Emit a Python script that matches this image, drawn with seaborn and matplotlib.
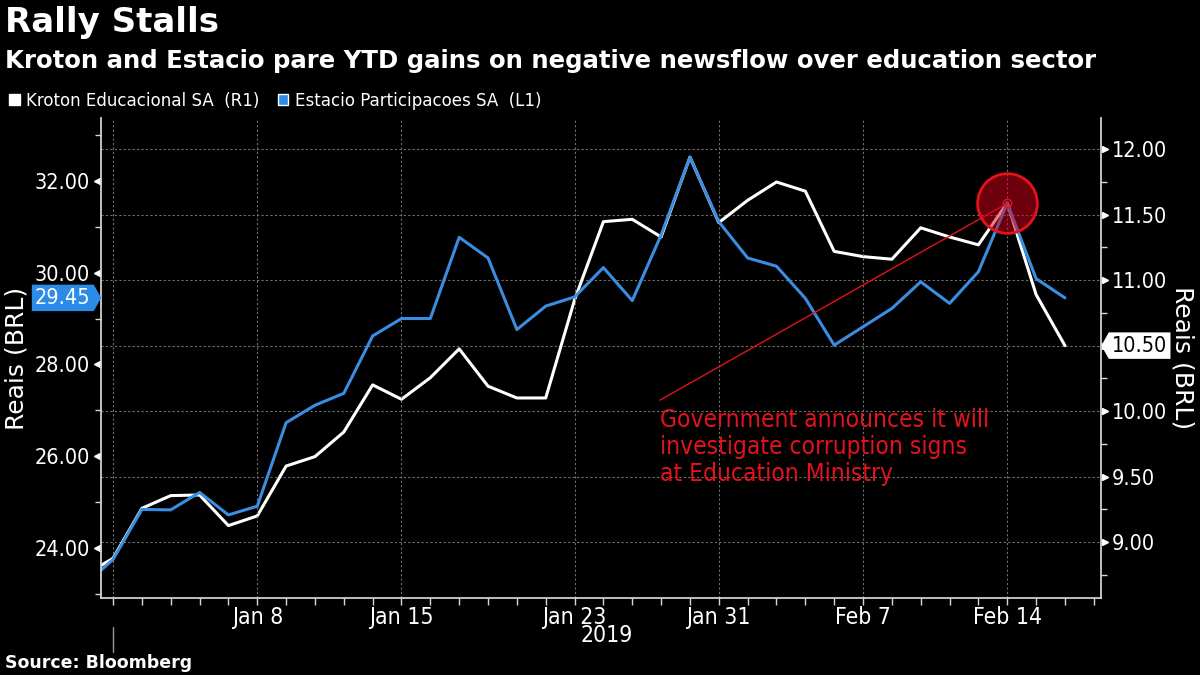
import numpy as np
import pandas as pd
import matplotlib
matplotlib.use("Agg")
import matplotlib.pyplot as plt
import matplotlib.transforms as mtransforms
from matplotlib.patches import Patch
from matplotlib.path import Path
from matplotlib.ticker import FixedLocator, FormatStrFormatter
import seaborn as sns

# trading days on the chart (Dec 27 is cut by the left edge)
dates = ["2018-12-27", "2018-12-28",
         "2019-01-02", "2019-01-03", "2019-01-04", "2019-01-07", "2019-01-08",
         "2019-01-09", "2019-01-10", "2019-01-11", "2019-01-14", "2019-01-15",
         "2019-01-16", "2019-01-17", "2019-01-18", "2019-01-21", "2019-01-22",
         "2019-01-23", "2019-01-24", "2019-01-28", "2019-01-29", "2019-01-30",
         "2019-01-31", "2019-02-01", "2019-02-04", "2019-02-05", "2019-02-06",
         "2019-02-07", "2019-02-08", "2019-02-11", "2019-02-12", "2019-02-13",
         "2019-02-14", "2019-02-15", "2019-02-18"]

# Kroton Educacional SA, right axis (R1)
kroton = [8.745, 8.875, 9.257, 9.354, 9.359, 9.125, 9.199, 9.58, 9.652, 9.84,
          10.20, 10.09, 10.255, 10.475, 10.19, 10.10, 10.10, 10.85, 11.447, 11.465,
          11.33, 11.94, 11.44, 11.61, 11.75, 11.68, 11.22, 11.18, 11.16, 11.40,
          11.33, 11.27, 11.59, 10.89, 10.50]

# Estacio Participacoes SA, left axis (L1)
estacio = [23.19, 23.75, 24.84, 24.83, 25.21, 24.72, 24.91, 26.73, 27.11, 27.37,
           28.62, 29.00, 29.00, 30.77, 30.32, 28.76, 29.27, 29.47, 30.11, 29.39,
           30.82, 32.51, 31.11, 30.32, 30.14, 29.44, 28.42, 28.82, 29.22, 29.80,
           29.33, 30.02, 31.51, 29.87, 29.45]

tick_dates = ["2019-01-08", "2019-01-15", "2019-01-23", "2019-01-31", "2019-02-07", "2019-02-14"]
tick_labels = ["Jan 8", "Jan 15", "Jan 23", "Jan 31", "Feb 7", "Feb 14"]
year_break = "2018-12-28"
left_ticks = [24, 26, 28, 30, 32]
left_minor = [23, 25, 27, 29, 31, 33]
right_ticks = [9.0, 9.5, 10.0, 10.5, 11.0, 11.5, 12.0]
right_minor = [8.75, 9.25, 9.75, 10.25, 10.75, 11.25, 11.75]
event_date = "2019-02-14"
note = "Government announces it will\ninvestigate corruption signs\nat Education Ministry"

BLUE = "#3a8de0"
TAG_BLUE = "#2b8be6"
RED = "#e3121b"
GRID = "#707070"
AXC = "#d8d8d8"

sns.set_theme(style="dark", rc={
    "figure.facecolor": "black", "axes.facecolor": "black", "savefig.facecolor": "black",
    "text.color": "white", "axes.labelcolor": "white",
    "xtick.color": "white", "ytick.color": "white",
})
plt.rcParams["font.family"] = ["DejaVu Sans"]
plt.rcParams["font.stretch"] = "condensed"

df = pd.DataFrame({"date": pd.to_datetime(dates), "kroton": kroton, "estacio": estacio})
df["day"] = np.arange(len(df))
pos = dict(zip(dates, df["day"]))

fig = plt.figure(figsize=(12, 6.75), dpi=100)
ax = fig.add_axes([0.0842, 0.1141, 0.8333, 0.7111])
ax2 = ax.twinx()
ax.set_zorder(ax2.get_zorder() + 1)
ax.patch.set_visible(False)

sns.lineplot(data=df, x="day", y="kroton", ax=ax2, color="white", lw=2.2)
sns.lineplot(data=df, x="day", y="estacio", ax=ax, color=BLUE, lw=2.2)

ax.set_xlim(0.584, 35.25)
ax.set_ylim(22.91, 33.37)
ax2.set_ylim(8.572, 12.239)

# grid
ax2.set_yticks(right_ticks)
ax2.set_yticks(right_minor, minor=True)
ax2.yaxis.grid(True, color=GRID, ls=(0, (2, 2)), lw=0.8)
ax2.xaxis.grid(False)
xt = [pos[year_break]] + [pos[d] for d in tick_dates]
ax.set_xticks(xt)
ax.set_xticklabels([""] + tick_labels)
ax.xaxis.set_minor_locator(FixedLocator(np.arange(1, len(dates) + 1)))
ax.xaxis.grid(True, color=GRID, ls=(0, (2, 2)), lw=0.8)
ax.yaxis.grid(False)
ax.set_axisbelow(True)

for s in ax.spines.values():
    s.set_color(AXC)
for s in ax2.spines.values():
    s.set_color(AXC)
ax.spines["top"].set_visible(False)
ax.spines["right"].set_visible(False)
ax2.spines["top"].set_visible(False)
ax2.spines["left"].set_visible(False)
ax2.spines["bottom"].set_visible(False)

ax.tick_params(axis="x", which="both", direction="out", length=5, width=1,
               color=AXC, labelsize=16.5, pad=0.5, bottom=True)

ax.set_yticks(left_ticks)
ax.set_yticks(left_minor, minor=True)
ax.yaxis.set_major_formatter(FormatStrFormatter("%.2f"))
ax.tick_params(axis="y", which="major", length=0, pad=8, labelsize=15.5, left=True)
ax.tick_params(axis="y", which="minor", length=4, width=1, direction="out", color=AXC, left=True)
ax2.yaxis.set_major_formatter(FormatStrFormatter("%.2f"))
ax2.tick_params(axis="y", which="major", length=0, pad=8, labelsize=15.5, right=True)
ax2.tick_params(axis="y", which="minor", length=4, width=1, direction="out", color=AXC, right=True)

# triangle tick marks
ltr = mtransforms.blended_transform_factory(ax.transAxes, ax.transData)
rtr = mtransforms.blended_transform_factory(ax2.transAxes, ax2.transData)
ax.plot(np.full(len(left_ticks), -0.004), left_ticks, marker="<", ls="none", ms=5,
        color="white", transform=ltr, clip_on=False)
ax2.plot(np.full(len(right_ticks), 1.004), right_ticks, marker=">", ls="none", ms=5,
         color="white", transform=rtr, clip_on=False)

ax.set_xlabel("")
ax.set_ylabel("Reais (BRL)", fontsize=18, fontstretch="normal")
ax.yaxis.set_label_coords(-0.073, 0.5)
ax2.set_ylabel("Reais (BRL)", fontsize=18, fontstretch="normal", rotation=270, va="bottom")
ax2.yaxis.set_label_coords(1.070, 0.5)

# year label and break mark
btr = mtransforms.blended_transform_factory(ax.transData, ax.transAxes)
ax.plot([pos[year_break]] * 2, [-0.06, -0.1125], color="#9a9a9a", lw=1,
        transform=btr, clip_on=False)
ax.text(0.506, -0.079, "2019", transform=ax.transAxes, ha="center", va="center",
        fontsize=16.5, color="white")


def tag_shape(direction):
    def shape(x0, y0, width, height, mutation_size):
        pad = 0.15 * mutation_size
        x0, y0 = x0 - pad, y0 - pad
        x1, y1 = x0 + width + 2 * pad, y0 + height + 2 * pad
        ym = (y0 + y1) / 2
        tip = 0.28 * (y1 - y0)
        if direction == "right":
            verts = [(x0, y0), (x1, y0), (x1 + tip, ym), (x1, y1), (x0, y1), (x0, y0)]
        else:
            verts = [(x0, y0), (x1, y0), (x1, y1), (x0, y1), (x0 - tip, ym), (x0, y0)]
        return Path(verts, closed=True)
    return shape


ax.text(-0.0105, estacio[-1], f"{estacio[-1]:.2f}", transform=ltr, ha="right", va="center",
        fontsize=15.5, color="white",
        bbox=dict(boxstyle=tag_shape("right"), fc=TAG_BLUE, ec="none"))
ax2.text(1.011, kroton[-1], f"{kroton[-1]:.2f}", transform=rtr, ha="left", va="center",
         fontsize=15.5, color="black",
         bbox=dict(boxstyle=tag_shape("left"), fc="white", ec="none"))

# event marker and annotation
ev = pos[event_date]
ev_y = estacio[dates.index(event_date)]
note_x, note_y = 19.96, 27.22
ax.plot(ev, ev_y, marker="o", ms=43, mfc=(0.85, 0.0, 0.1, 0.5), mec=RED, mew=2, zorder=5)
ax.plot(ev, ev_y, marker="o", ms=6, mfc="none", mec=RED, mew=1, zorder=6)
ax.plot([note_x, ev], [note_y, ev_y], color=RED, lw=1, zorder=4)
ax.text(note_x, note_y - 0.17, note, ha="left", va="top", fontsize=17.6, color=RED,
        linespacing=1.16)

# legend
fig.legend(handles=[Patch(fc="white"), Patch(fc=TAG_BLUE)],
           labels=["Kroton Educacional SA  (R1)", "Estacio Participacoes SA  (L1)"],
           loc="center left", bbox_to_anchor=(-0.006, 0.850), ncol=2, frameon=False,
           handlelength=0.55, handleheight=0.55, handletextpad=0.35, columnspacing=1.0,
           fontsize=13.3, labelcolor="white")

fig.text(0.004, 0.966, "Rally Stalls", fontsize=24.5, fontweight="bold",
         fontstretch="normal", va="center", color="white")
fig.text(0.004, 0.910, "Kroton and Estacio pare YTD gains on negative newsflow over education sector",
         fontsize=17.6, fontweight="bold", fontstretch="normal", va="center", color="white")
fig.text(0.004, 0.018, "Source: Bloomberg", fontsize=12.5, fontweight="bold",
         fontstretch="normal", va="center", color="white")

fig.savefig("out.png", dpi=100, facecolor="black")
